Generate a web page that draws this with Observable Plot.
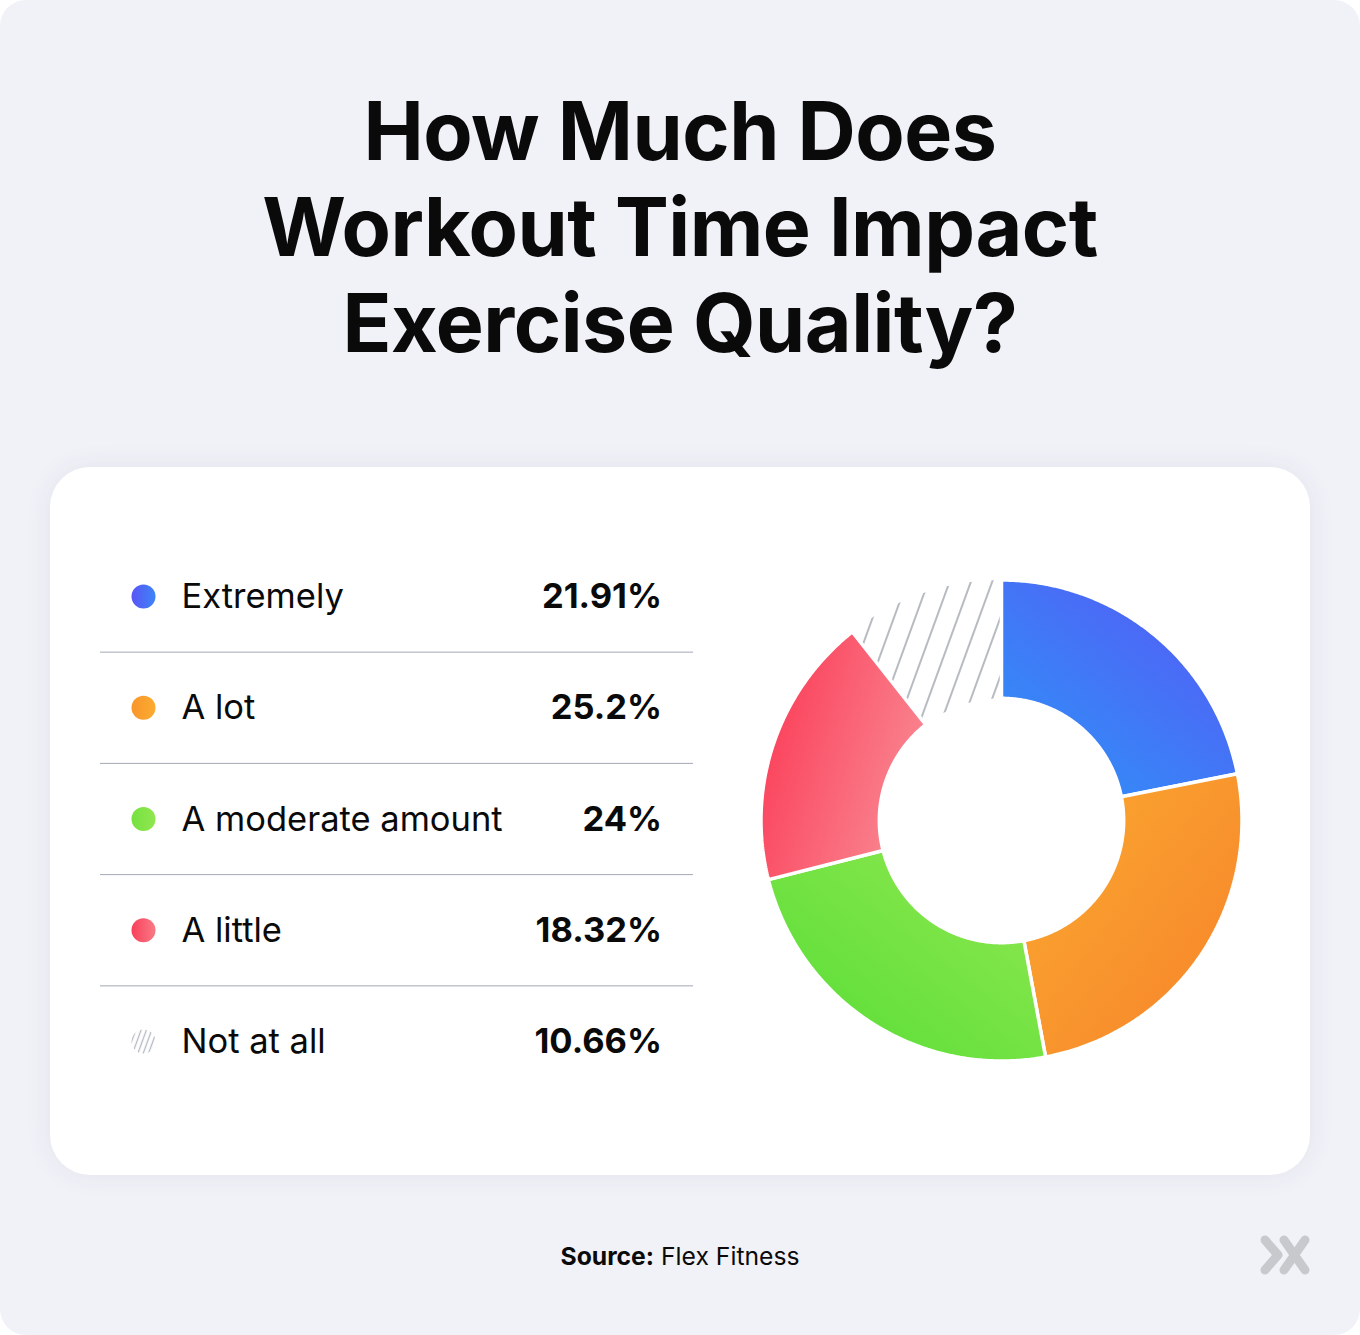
<!DOCTYPE html>
<html><head><meta charset="utf-8">
<script src="https://cdn.jsdelivr.net/npm/d3@7"></script>
<script src="https://cdn.jsdelivr.net/npm/@observablehq/plot@0.6"></script>
<style>
html,body{margin:0;padding:0;background:#fff;}
#page{position:relative;width:1360px;height:1335px;background:#f1f2f8;border-radius:26px;overflow:hidden;font-family:Inter,"Noto Sans",sans-serif;color:#0a0a0a;}
#title{position:absolute;left:0;top:83px;width:1360px;text-align:center;font-size:80.7px;line-height:96px;font-weight:700;letter-spacing:-0.5px;}
#card{position:absolute;left:50px;top:467px;width:1260px;height:708px;background:#fff;border-radius:40px;box-shadow:0 0 28px rgba(40,50,90,0.07);}
#legend{position:absolute;left:0;top:0;}
#donut{position:absolute;left:701px;top:103px;}
#source{position:absolute;left:0;width:1360px;top:1241px;text-align:center;font-size:24.7px;line-height:30px;color:#0a0a0a;}
#logo{position:absolute;left:0;top:0;}
#defs{position:absolute;width:0;height:0;}
</style></head>
<body>
<svg id="defs" width="0" height="0">
  <defs>
    <linearGradient id="g-blue" x1="1" y1="0" x2="0.25" y2="0.85"><stop offset="0" stop-color="#5857f5"/><stop offset="1" stop-color="#3589f7"/></linearGradient>
    <linearGradient id="g-orange" x1="0" y1="0" x2="1" y2="1"><stop offset="0" stop-color="#fbaa30"/><stop offset="1" stop-color="#f6822a"/></linearGradient>
    <linearGradient id="g-green" x1="1" y1="0" x2="0" y2="1"><stop offset="0" stop-color="#92e850"/><stop offset="1" stop-color="#55dd36"/></linearGradient>
    <linearGradient id="g-red" x1="0" y1="0.3" x2="1" y2="0.75"><stop offset="0" stop-color="#fb3d58"/><stop offset="1" stop-color="#f98d96"/></linearGradient>
    <linearGradient id="d-blue" x1="0" y1="0" x2="1" y2="0"><stop offset="0" stop-color="#5a55f6"/><stop offset="1" stop-color="#3d84f7"/></linearGradient>
    <linearGradient id="d-orange" x1="0" y1="0" x2="1" y2="0"><stop offset="0" stop-color="#f9952c"/><stop offset="1" stop-color="#fbac30"/></linearGradient>
    <linearGradient id="d-green" x1="0" y1="0" x2="1" y2="0"><stop offset="0" stop-color="#76e140"/><stop offset="1" stop-color="#90e74f"/></linearGradient>
    <linearGradient id="d-red" x1="0" y1="0" x2="1" y2="0"><stop offset="0" stop-color="#f9405a"/><stop offset="1" stop-color="#f97a86"/></linearGradient>
    <pattern id="hatch" patternUnits="userSpaceOnUse" width="20" height="20" patternTransform="rotate(20)">
      <line x1="10" y1="-2" x2="10" y2="22" stroke="#a5a9b2" stroke-width="1.6"/>
    </pattern>
    <pattern id="hatch-small" patternUnits="userSpaceOnUse" width="5" height="10" patternTransform="rotate(20)">
      <line x1="2.5" y1="-1" x2="2.5" y2="11" stroke="#b3b7c0" stroke-width="1.3"/>
    </pattern>
  </defs>
</svg>
<div id="page">
  <div id="title">How Much Does<br>Workout Time Impact<br>Exercise Quality?</div>
  <div id="card"></div>
  <div id="source"><b>Source:</b> Flex Fitness</div>
  <svg id="logo" width="1360" height="1335" style="pointer-events:none">
    <g fill="none" stroke="#c8c9cd" stroke-width="9" stroke-linecap="round" stroke-linejoin="round">
      <polyline points="1265,1240 1278,1255 1265,1270"/>
      <line x1="1284" y1="1240" x2="1305" y2="1270"/>
      <line x1="1305" y1="1240" x2="1284" y2="1270"/>
    </g>
  </svg>
</div>
<script>
const categories = ["Extremely", "A lot", "A moderate amount", "A little", "Not at all"];
const shares = [21.91, 25.2, 24, 18.32, 10.66];
const shareLabels = ["21.91%", "25.2%", "24%", "18.32%", "10.66%"];
const sliceFills = ["url(#g-blue)", "url(#g-orange)", "url(#g-green)", "url(#g-red)", "url(#hatch)"];
const dotFills = ["url(#d-blue)", "url(#d-orange)", "url(#d-green)", "url(#d-red)", "url(#hatch-small)"];

const rows = categories.map((c, i) => ({i, category: c, share: shares[i], label: shareLabels[i], dot: dotFills[i], slice: sliceFills[i]}));

// Legend table
const legend = Plot.plot({
  width: 700, height: 708, margin: 0,
  x: {domain: [0, 700], range: [0, 700], axis: null},
  y: {domain: [-0.5, 4.5], range: [73.4, 629.6], axis: null},
  color: {type: "identity"},
  style: {background: "transparent", fontFamily: "Inter, 'Noto Sans', sans-serif", overflow: "visible"},
  marks: [
    Plot.ruleY(rows.slice(0, -1), {y: d => d.i + 0.5, x1: 50, x2: 643, stroke: "#a3a8b4", strokeWidth: 1}),
    Plot.dot(rows, {x: 93, y: "i", r: 12, fill: "dot"}),
    Plot.text(rows, {x: 131, y: "i", dy: 0.5, text: "category", textAnchor: "start", fontSize: 34.5, fill: "#0a0a0a"}),
    Plot.text(rows, {x: 611.5, y: "i", dy: 0.5, text: "label", textAnchor: "end", fontSize: 34.5, fontWeight: 700, fill: "#0a0a0a"})
  ]
});
legend.id = "legend";
document.getElementById("card").appendChild(legend);

// Donut
const innerRatio = 0.508;
const arcs = d3.pie().sort(null).value(d => d.share).startAngle(0).endAngle(2 * Math.PI)(rows);
function ringPoints(a0, a1) {
  const n = Math.max(2, Math.ceil((a1 - a0) / (Math.PI / 360)));
  const pts = [];
  for (let k = 0; k <= n; k++) { const a = a0 + (a1 - a0) * k / n; pts.push({x: Math.sin(a), y: Math.cos(a)}); }
  for (let k = n; k >= 0; k--) { const a = a0 + (a1 - a0) * k / n; pts.push({x: innerRatio * Math.sin(a), y: innerRatio * Math.cos(a)}); }
  return pts;
}
const order = [4, 0, 1, 2, 3];
const donut = Plot.plot({
  width: 500, height: 500, margin: 0,
  x: {domain: [-1, 1], range: [9.5, 490.5], axis: null},
  y: {domain: [-1, 1], range: [490.5, 9.5], axis: null},
  style: {background: "transparent", overflow: "visible"},
  marks: order.map(i => {
    const a = arcs[i];
    const hatch = i === 4;
    return Plot.line(ringPoints(a.startAngle, a.endAngle), {
      x: "x", y: "y", curve: "linear-closed",
      fill: a.data.slice,
      stroke: hatch ? "none" : "white",
      strokeWidth: hatch ? 0 : 3.5,
      strokeLinejoin: "miter"
    });
  })
});
donut.id = "donut";
document.getElementById("card").appendChild(donut);
</script>
</body></html>
